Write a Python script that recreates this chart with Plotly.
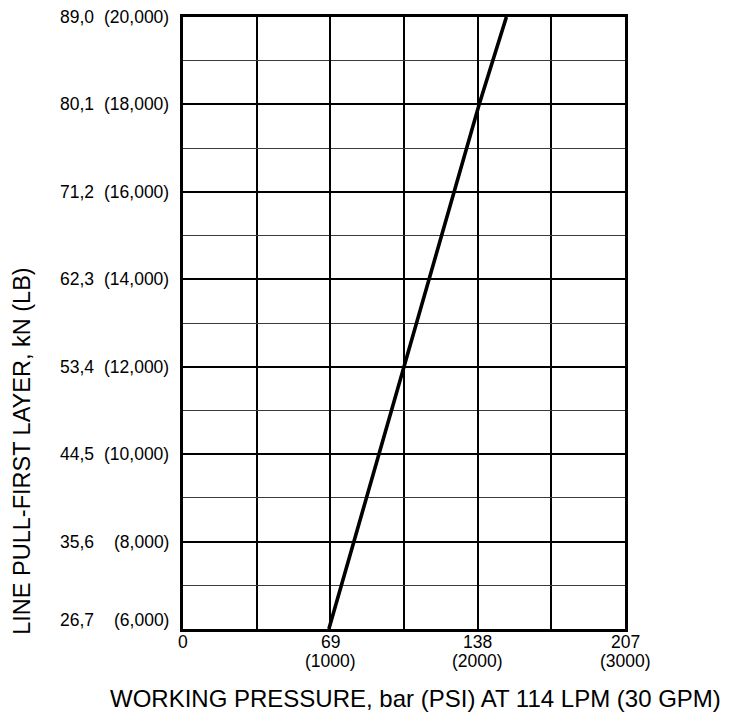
import plotly.graph_objects as go

# Data
pressure_psi = [990, 1500, 2010, 2195]
line_pull_lb = [6000, 12000, 18000, 20000]

y_tick_lb = [6000, 8000, 10000, 12000, 14000, 16000, 18000, 20000]
y_tick_lb_text = ["(6,000)", "(8,000)", "(10,000)", "(12,000)", "(14,000)", "(16,000)", "(18,000)", "(20,000)"]
y_tick_kn_text = ["26,7", "35,6", "44,5", "53,4", "62,3", "71,2", "80,1", "89,0"]

x_tick_psi = [0, 1000, 2000, 3000]
x_tick_bar_text = ["0", "69", "138", "207"]
x_tick_psi_text = ["", "(1000)", "(2000)", "(3000)"]

FONT = "Liberation Sans, Arial, sans-serif"
TICK = 17.5

fig = go.Figure()
fig.add_trace(go.Scatter(
    x=pressure_psi, y=line_pull_lb, mode="lines",
    line=dict(color="black", width=3.6), showlegend=False, hoverinfo="skip"))

# the page body has an 8px default margin, so the figure is sized to the visible area
fig.update_layout(
    width=713, height=705,
    margin=dict(l=175, r=96, t=9, b=84),
    paper_bgcolor="white", plot_bgcolor="white",
    font=dict(family=FONT, color="black", size=TICK),
    xaxis=dict(
        range=[0, 3000], tickvals=x_tick_psi, showticklabels=False,
        showgrid=True, gridcolor="black", gridwidth=1.5,
        minor=dict(dtick=500, tick0=0, showgrid=True, gridcolor="black", gridwidth=1.5),
        showline=True, linecolor="black", linewidth=2.5, mirror=True,
        ticks="", zeroline=False, automargin=False,
    ),
    yaxis=dict(
        range=[6000, 20000], tickvals=y_tick_lb, showticklabels=False,
        showgrid=True, gridcolor="black", gridwidth=1.5,
        minor=dict(dtick=1000, tick0=6000, showgrid=True, gridcolor="#3a3a3a", gridwidth=1),
        showline=True, linecolor="black", linewidth=2.5, mirror=True,
        ticks="", zeroline=False, automargin=False,
    ),
)

tfont = dict(size=TICK, family=FONT, color="black")

# y tick labels: kN column and (lb) column, placed at the axis values
for i, (v, kn, lb) in enumerate(zip(y_tick_lb, y_tick_kn_text, y_tick_lb_text)):
    shift = 9 if i == 0 else 0
    fig.add_annotation(text=kn, xref="paper", yref="y", x=0, y=v, xshift=-87, yshift=shift,
                       xanchor="right", yanchor="middle", showarrow=False, font=tfont)
    fig.add_annotation(text=lb, xref="paper", yref="y", x=0, y=v, xshift=-12, yshift=shift,
                       xanchor="right", yanchor="middle", showarrow=False, font=tfont)

# x tick labels: bar row and (psi) row
for v, b, p in zip(x_tick_psi, x_tick_bar_text, x_tick_psi_text):
    fig.add_annotation(text=b, xref="x", yref="paper", x=v, y=0, yshift=-13,
                       xanchor="center", yanchor="middle", showarrow=False, font=tfont,
                       borderpad=0)
    if p:
        fig.add_annotation(text=p, xref="x", yref="paper", x=v, y=0, yshift=-32,
                           xanchor="center", yanchor="middle", showarrow=False, font=tfont,
                           borderpad=0)

fig.add_annotation(
    text="WORKING PRESSURE, bar (PSI) AT 114 LPM (30 GPM)",
    xref="paper", yref="paper", x=0.526, y=-0.114, xanchor="center", yanchor="middle",
    showarrow=False, font=dict(size=24, family=FONT, color="black"))

fig.add_annotation(
    text="LINE PULL-FIRST LAYER, kN (LB)", textangle=-90,
    xref="paper", yref="paper", x=-0.366, y=0.29, xanchor="center", yanchor="middle",
    showarrow=False, font=dict(size=23.5, family=FONT, color="black"))

fig.write_html("out.html")
